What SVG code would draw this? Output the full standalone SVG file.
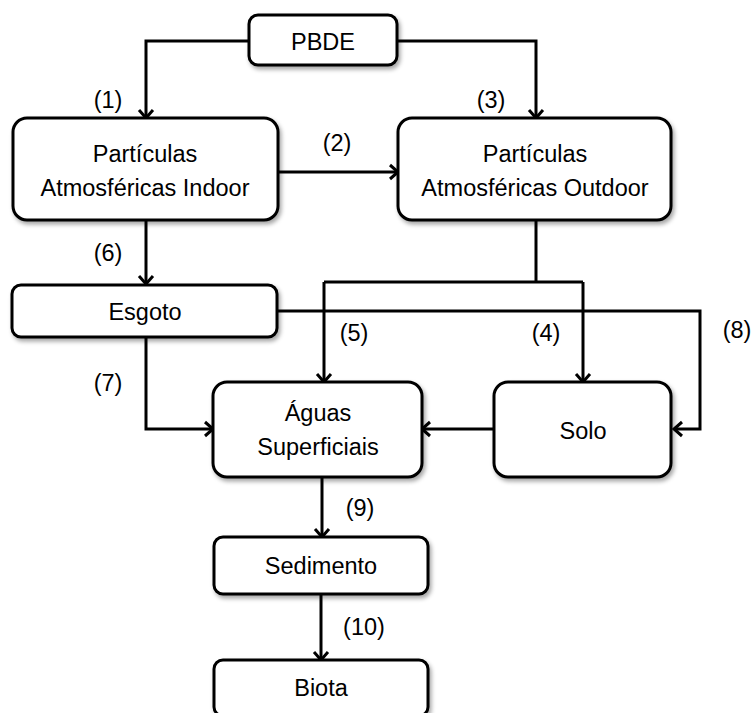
<svg xmlns="http://www.w3.org/2000/svg" width="752" height="713" viewBox="0 0 752 713">
<style>
.box{fill:#fff;stroke:#000;stroke-width:3;filter:url(#sh)}
.t{font-family:"Liberation Sans",Arial,sans-serif;font-size:23.5px;fill:#000;text-anchor:middle;dominant-baseline:central}
.c{fill:none;stroke:#000;stroke-width:3}
</style>
<defs>
<filter id="sh" x="-10%" y="-10%" width="120%" height="130%">
<feDropShadow dx="2" dy="3" stdDeviation="2" flood-color="#000" flood-opacity="0.35"/>
</filter>
</defs>
<g id="connectors">
<path class="c" d="M249,41 H146 V117"/>
<path class="c" d="M397,41 H536 V117"/>
<path class="c" d="M278,172 H397"/>
<path class="c" d="M146,220 V283"/>
<path class="c" d="M536,220 V282"/>
<path class="c" d="M324,282 H583"/>
<path class="c" d="M324,282 V381"/>
<path class="c" d="M583,282 V381"/>
<path class="c" d="M277,311 H700 V429 H675"/>
<path class="c" d="M146,337 V429 H212"/>
<path class="c" d="M494,429 H423"/>
<path class="c" d="M322,477 V536"/>
<path class="c" d="M321,594 V659"/>
<g id="arrowheads">
<path class="c" d="M139,110 L146,118 L153,110"/>
<path class="c" d="M529,110 L536,118 L543,110"/>
<path class="c" d="M390,165 L398,172 L390,179"/>
<path class="c" d="M139,276 L146,284 L153,276"/>
<path class="c" d="M317,374 L324,382 L331,374"/>
<path class="c" d="M576,374 L583,382 L590,374"/>
<path class="c" d="M682,422 L674,429 L682,436"/>
<path class="c" d="M205,422 L213,429 L205,436"/>
<path class="c" d="M430,422 L422,429 L430,436"/>
<path class="c" d="M315,529 L322,537 L329,529"/>
<path class="c" d="M314,652 L321,660 L328,652"/>
</g>
<g id="labels">
<text class="t" x="108" y="100">(1)</text>
<text class="t" x="337" y="143">(2)</text>
<text class="t" x="491" y="100">(3)</text>
<text class="t" x="546" y="333">(4)</text>
<text class="t" x="354" y="333">(5)</text>
<text class="t" x="108" y="253">(6)</text>
<text class="t" x="108" y="383">(7)</text>
<text class="t" x="737" y="330">(8)</text>
<text class="t" x="360" y="508">(9)</text>
<text class="t" x="364" y="627">(10)</text>
</g>
</g>
<g id="pbde"><rect class="box" x="249" y="15" width="148" height="50" rx="9"/><text class="t" x="323" y="42">PBDE</text></g>
<g id="indoor"><rect class="box" x="13" y="118" width="265" height="102" rx="14"/><text class="t" x="145" y="154">Partículas</text><text class="t" x="145" y="188">Atmosféricas Indoor</text></g>
<g id="outdoor"><rect class="box" x="398" y="118" width="273" height="102" rx="14"/><text class="t" x="535" y="154">Partículas</text><text class="t" x="535" y="188">Atmosféricas Outdoor</text></g>
<g id="esgoto"><rect class="box" x="12" y="285" width="265" height="52" rx="9"/><text class="t" x="145" y="312">Esgoto</text></g>
<g id="aguas"><rect class="box" x="213" y="382" width="209" height="95" rx="14"/><text class="t" x="318" y="413">Águas</text><text class="t" x="318" y="447">Superficiais</text></g>
<g id="solo"><rect class="box" x="494" y="382" width="177" height="95" rx="14"/><text class="t" x="583" y="431">Solo</text></g>
<g id="sedimento"><rect class="box" x="214" y="537" width="214" height="57" rx="9"/><text class="t" x="321" y="566">Sedimento</text></g>
<g id="biota"><rect class="box" x="214" y="660" width="214" height="56" rx="9"/><text class="t" x="321" y="688">Biota</text></g>
</svg>
